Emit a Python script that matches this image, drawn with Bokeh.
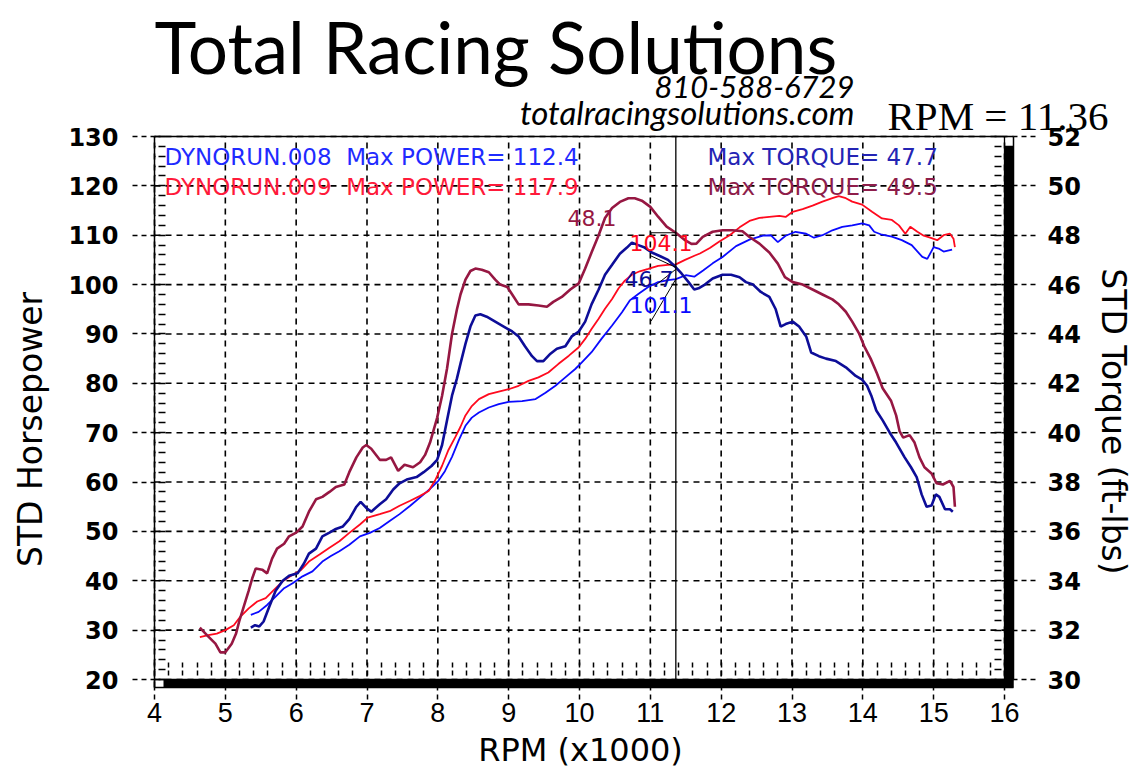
import math
from bokeh.plotting import figure
from bokeh.models import Range1d, LinearAxis, FixedTicker, Label
from bokeh.embed import file_html
from bokeh.resources import INLINE

# ---------------- data ----------------
# DYNORUN.009 torque (ft-lbs)
TQ009_RPM = [4.64, 4.74, 4.86, 4.93, 5.0, 5.09, 5.15, 5.2, 5.26, 5.33, 5.38, 5.43, 5.52, 5.59, 5.66, 5.73,
             5.83, 5.9, 6.0, 6.09, 6.18, 6.28, 6.37, 6.47, 6.56, 6.68, 6.75, 6.85, 6.94, 6.99, 7.06, 7.18,
             7.27, 7.34, 7.44, 7.53, 7.65, 7.75, 7.82, 7.89, 7.99, 8.06, 8.13, 8.2, 8.27, 8.32, 8.39, 8.46,
             8.53, 8.62, 8.72, 8.81, 8.88, 8.98, 9.05, 9.14, 9.28, 9.42, 9.54, 9.63, 9.75, 9.87, 9.99, 10.08,
             10.17, 10.27, 10.36, 10.46, 10.57, 10.69, 10.78, 10.88, 11.0, 11.11, 11.23, 11.36, 11.49, 11.58,
             11.65, 11.74, 11.88, 12.02, 12.16, 12.3, 12.4, 12.54, 12.68, 12.8, 12.9, 13.01, 13.15, 13.29,
             13.43, 13.57, 13.66, 13.76, 13.85, 13.95, 14.02, 14.11, 14.2, 14.28, 14.4, 14.47, 14.52, 14.57,
             14.66, 14.73, 14.8, 14.87, 14.97, 15.04, 15.13, 15.23, 15.28, 15.3]
TQ009 = [32.1, 31.8, 31.45, 31.1, 31.1, 31.45, 31.85, 32.4, 32.95, 33.6, 34.1, 34.5, 34.45, 34.3, 34.9, 35.3,
         35.5, 35.8, 35.95, 36.2, 36.8, 37.3, 37.4, 37.6, 37.8, 37.9, 38.4, 39.0, 39.4, 39.5, 39.35, 38.9,
         38.9, 39.0, 38.45, 38.7, 38.6, 38.8, 39.1, 39.6, 40.6, 41.5, 42.6, 44.0, 45.0, 45.6, 46.2, 46.55,
         46.65, 46.6, 46.5, 46.2, 46.0, 45.9, 45.6, 45.2, 45.2, 45.15, 45.1, 45.3, 45.5, 45.8, 46.05, 46.65,
         47.3, 48.0, 48.7, 49.1, 49.35, 49.5, 49.5, 49.4, 49.15, 48.75, 48.35, 48.1, 47.8, 47.65,
         47.66, 47.93, 48.14, 48.2, 48.2, 48.16, 47.93, 47.66, 47.3, 46.85, 46.3, 46.1, 46.0, 45.8,
         45.6, 45.4, 45.2, 44.9, 44.5, 44.0, 43.5, 43.0, 42.4, 41.8, 41.28, 40.7, 40.05, 39.8,
         39.9, 39.6, 39.0, 38.6, 38.35, 37.95, 37.9, 38.05, 37.8, 37.0]

# DYNORUN.008 torque (ft-lbs)
TQ008_RPM = [5.36, 5.42, 5.48, 5.54, 5.62, 5.71, 5.81, 5.9, 6.02, 6.11, 6.18, 6.28, 6.37, 6.47, 6.56, 6.66,
             6.75, 6.85, 6.91, 6.99, 7.06, 7.18, 7.27, 7.37, 7.46, 7.56, 7.7, 7.8, 7.91, 7.99, 8.06, 8.13,
             8.2, 8.27, 8.32, 8.39, 8.46, 8.53, 8.6, 8.69, 8.81, 8.93, 9.05, 9.14, 9.23, 9.33, 9.4, 9.49,
             9.59, 9.68, 9.8, 9.89, 9.99, 10.08, 10.17, 10.27, 10.36, 10.46, 10.57, 10.67, 10.74, 10.83,
             10.92, 11.02, 11.14, 11.25, 11.36, 11.44, 11.54, 11.62, 11.68, 11.77, 11.88, 12.02, 12.14,
             12.26, 12.35, 12.45, 12.56, 12.68, 12.77, 12.84, 12.91, 13.01, 13.1, 13.2, 13.27, 13.38,
             13.48, 13.62, 13.76, 13.9, 13.99, 14.06, 14.12, 14.19, 14.28, 14.38, 14.47, 14.59, 14.68,
             14.76, 14.83, 14.9, 14.97, 15.03, 15.08, 15.16, 15.23, 15.27]
TQ008 = [32.1, 32.2, 32.15, 32.35, 32.95, 33.6, 34.0, 34.2, 34.3, 34.7, 35.1, 35.3, 35.8, 35.95, 36.1, 36.2,
         36.5, 37.0, 37.2, 36.95, 36.8, 37.1, 37.3, 37.7, 37.95, 38.1, 38.2, 38.4, 38.65, 38.9, 39.5, 40.5,
         41.5, 42.2, 42.8, 43.6, 44.3, 44.75, 44.8, 44.7, 44.5, 44.3, 44.1, 43.9, 43.5, 43.1, 42.9, 42.9,
         43.2, 43.4, 43.5, 43.9, 44.1, 44.5, 45.2, 45.8, 46.4, 46.8, 47.25, 47.5, 47.7, 47.6,
         47.5, 47.3, 47.15, 47.0, 46.7, 46.45, 46.1, 45.8, 45.85, 46.0, 46.25, 46.4, 46.4,
         46.3, 46.1, 46.0, 45.7, 45.5, 45.0, 44.3, 44.4, 44.5, 44.3, 43.9, 43.25, 43.1,
         43.0, 42.9, 42.65, 42.3, 42.15, 41.9, 41.5, 40.9, 40.5, 40.0, 39.6, 39.0, 38.6,
         38.2, 37.5, 37.0, 37.05, 37.5, 37.4, 36.9, 36.9, 36.8]

# DYNORUN.009 power (HP)
HP009_RPM = [4.64, 4.76, 4.88, 5.0, 5.12, 5.21, 5.33, 5.45, 5.57, 5.69, 5.81, 5.95, 6.07, 6.18, 6.33, 6.47,
             6.61, 6.75, 6.9, 7.01, 7.18, 7.32, 7.46, 7.61, 7.75, 7.87, 7.96, 8.06, 8.15, 8.25, 8.32, 8.39,
             8.48, 8.58, 8.72, 8.86, 9.0, 9.14, 9.28, 9.42, 9.56, 9.7, 9.85, 9.99, 10.08, 10.17, 10.27,
             10.36, 10.46, 10.55, 10.64, 10.74, 10.85, 10.97, 11.11, 11.25, 11.36, 11.49, 11.63, 11.7,
             11.84, 11.98, 12.12, 12.26, 12.4, 12.54, 12.68, 12.82, 12.91, 13.01, 13.15, 13.29, 13.43,
             13.57, 13.66, 13.76, 13.85, 13.99, 14.13, 14.27, 14.41, 14.51, 14.6, 14.67, 14.77, 14.86,
             14.95, 15.05, 15.14, 15.23, 15.28, 15.3]
HP009 = [28.6, 29.0, 29.3, 30.0, 31.0, 32.7, 34.4, 35.8, 36.5, 38.2, 39.9, 41.2, 42.2, 43.9, 45.3, 46.7,
         48.0, 49.7, 51.4, 52.8, 53.5, 54.1, 55.2, 56.2, 57.2, 58.2, 60.3, 63.3, 66.5, 69.2, 71.2, 73.5,
         75.4, 76.8, 77.8, 78.3, 78.8, 79.5, 80.5, 81.2, 82.2, 83.9, 85.6, 87.3, 89.0, 91.0, 93.1,
         95.1, 97.1, 99.2, 100.8, 102.0, 102.7, 103.2, 103.8, 104.0, 104.1, 105.0, 105.9, 106.3,
         107.4, 108.8, 110.0, 111.6, 112.9, 113.5, 113.7, 113.9, 113.7, 114.75, 115.3, 116.0, 116.8,
         117.5, 117.9, 117.5, 116.8, 116.2, 114.75, 113.4, 113.1, 112.0, 110.3, 111.7, 110.7, 109.9,
         109.5, 109.0, 110.0, 110.3, 109.3, 107.6]

# DYNORUN.008 power (HP)
HP008_RPM = [5.36, 5.47, 5.59, 5.71, 5.83, 5.95, 6.09, 6.23, 6.37, 6.49, 6.61, 6.75, 6.9, 7.04, 7.18, 7.32,
             7.46, 7.61, 7.75, 7.89, 8.01, 8.1, 8.2, 8.3, 8.39, 8.48, 8.58, 8.72, 8.86, 9.0, 9.19, 9.38,
             9.52, 9.66, 9.8, 9.94, 10.03, 10.17, 10.31, 10.46, 10.6, 10.71, 10.83, 10.97, 11.11, 11.25,
             11.36, 11.5, 11.62, 11.75, 11.88, 12.02, 12.21, 12.4, 12.59, 12.7, 12.8, 12.91, 13.05, 13.2,
             13.31, 13.43, 13.57, 13.71, 13.85, 13.99, 14.09, 14.16, 14.27, 14.41, 14.55, 14.69, 14.84,
             14.91, 15.0, 15.07, 15.14, 15.26]
HP008 = [33.1, 33.7, 35.1, 36.8, 38.5, 39.5, 40.9, 41.9, 43.9, 45.0, 46.0, 47.3, 49.0, 49.7, 50.7, 52.1,
         53.5, 55.2, 56.9, 58.6, 60.3, 62.2, 65.1, 68.6, 71.4, 73.05, 74.1, 75.1, 75.8, 76.25, 76.4, 76.8,
         78.1, 79.5, 81.2, 82.9, 84.2, 86.3, 89.0, 91.7, 94.4, 96.8, 98.1, 99.5, 100.5, 100.9,
         101.1, 101.9, 101.6, 102.9, 104.3, 105.6, 107.8, 109.1, 109.9, 110.0, 108.6, 109.9, 110.7, 110.3,
         109.5, 110.0, 111.0, 111.7, 112.0, 112.4, 112.0, 110.7, 110.1, 109.7, 109.0, 108.0, 105.6,
         105.2, 107.6, 107.3, 106.7, 107.1]

RUN_NAMES = ["DYNORUN.008", "DYNORUN.009"]
MAX_POWER = [112.4, 117.9]
MAX_TORQUE = [47.7, 49.5]
CURSOR_RPM = 11.36
CURSOR_HP = [101.1, 104.1]
CURSOR_TQ = [46.7, 48.1]

X_TICKS = list(range(4, 17))
HP_TICKS = list(range(20, 131, 10))
TQ_TICKS = list(range(30, 53, 2))

# ---------------- layout ----------------
RPM_MIN, RPM_MAX = 4, 16
HP_MIN, HP_MAX = 20, 130
TQ_MIN, TQ_MAX = 30, 52
INNER_W, INNER_H = 850, 543       # pixel size of the 4..16 x 20..130 plot box
SHADOW_R, SHADOW_B = 9, 8
FIG_W, FIG_H = 1135, 770          # the frame covers the whole canvas; texts live inside it
ORIGIN = 1                        # page offset of the canvas
PAGE_X0, PAGE_Y0 = 155, 137       # page position of (RPM 4, HP 130)

PXR = INNER_W / (RPM_MAX - RPM_MIN)
PXH = INNER_H / (HP_MAX - HP_MIN)
PXT = INNER_H / (TQ_MAX - TQ_MIN)


def px_to_rpm(x):
    return RPM_MIN + (x - PAGE_X0) / PXR


def py_to_hp(y):
    return HP_MAX + (PAGE_Y0 - y) / PXH


def py_to_tq(y):
    return TQ_MAX + (PAGE_Y0 - y) / PXT


def tq_to_hp(t):
    return HP_MIN + (t - TQ_MIN) * PXT / PXH


X_SHADOW = RPM_MAX + SHADOW_R / PXR
Y_SHADOW = HP_MIN - SHADOW_B / PXH

RED = "#ff0a1e"
BLUE = "#0a0aff"
NAVY = "#0d0d98"
MAROON = "#961742"

p = figure(frame_width=FIG_W, frame_height=FIG_H,
           x_range=Range1d(px_to_rpm(ORIGIN), px_to_rpm(ORIGIN + FIG_W)),
           y_range=Range1d(py_to_hp(ORIGIN + FIG_H), py_to_hp(ORIGIN)),
           output_backend="svg", toolbar_location=None, min_border=0)
p.extra_y_ranges = {"tq": Range1d(py_to_tq(ORIGIN + FIG_H), py_to_tq(ORIGIN))}
p.background_fill_color = "white"
p.border_fill_color = "white"
p.outline_line_color = None
p.xgrid.visible = False
p.ygrid.visible = False

xt = FixedTicker(ticks=X_TICKS, minor_ticks=[RPM_MIN + i * 0.2 for i in range(61)])
yt = FixedTicker(ticks=HP_TICKS, minor_ticks=list(range(20, 131, 2)))
tt = FixedTicker(ticks=TQ_TICKS, minor_ticks=[TQ_MIN + i * 0.4 for i in range(56)])

# dashed grid, drawn on the data scales
p.segment(x0=X_TICKS, y0=[Y_SHADOW] * len(X_TICKS), x1=X_TICKS, y1=[HP_MAX] * len(X_TICKS),
          line_color="black", line_dash="6 5", line_width=1.6)
p.segment(x0=[RPM_MIN] * len(HP_TICKS), y0=HP_TICKS, x1=[X_SHADOW] * len(HP_TICKS), y1=HP_TICKS,
          line_color="black", line_dash="6 5", line_width=1.6)


def style_axis(ax, label_font, label_size, label_style, standoff, tick_out, minor_in, minor_dash):
    ax.axis_label = None
    ax.major_label_text_font = label_font
    ax.major_label_text_font_size = label_size
    ax.major_label_text_font_style = label_style
    ax.major_label_text_color = "black"
    ax.major_label_standoff = standoff
    ax.major_tick_out = tick_out
    ax.major_tick_in = 0
    ax.major_tick_line_dash = "5 4"
    ax.major_tick_line_width = 1.5
    ax.minor_tick_in = minor_in
    ax.minor_tick_out = 0
    ax.minor_tick_line_dash = minor_dash
    ax.minor_tick_line_width = 1.5
    ax.axis_line_width = 1.5


# left axis (HP), fixed on the plot box edge
ya = p.yaxis[0]
ya.ticker = yt
ya.bounds = (HP_MIN, HP_MAX)
ya.fixed_location = RPM_MIN
style_axis(ya, "DejaVu Sans", "24px", "bold", 14, 22, 11, "1 3 7")

# right axis (torque)
ra = LinearAxis(y_range_name="tq", ticker=tt, bounds=(TQ_MIN, TQ_MAX), fixed_location=X_SHADOW)
style_axis(ra, "DejaVu Sans", "24px", "bold", 12, 22, 19, "9 3 7")
p.add_layout(ra, "right")

# bottom axis (RPM)
xa = p.xaxis[0]
xa.ticker = xt
xa.bounds = (RPM_MIN, X_SHADOW)
xa.fixed_location = Y_SHADOW
style_axis(xa, "Liberation Sans", "27px", "normal", 3, 12, 25, "8 4 5 3 5")

# curves
p.line(HP008_RPM, HP008, line_color=BLUE, line_width=1.8)
p.line(HP009_RPM, HP009, line_color=RED, line_width=1.8)
p.line(TQ008_RPM, TQ008, y_range_name="tq", line_color=NAVY, line_width=2.6)
p.line(TQ009_RPM, TQ009, y_range_name="tq", line_color=MAROON, line_width=2.6)

# frame edges, cursor, drop shadow
p.segment(x0=[RPM_MIN, RPM_MAX, RPM_MIN, RPM_MIN, CURSOR_RPM],
          y0=[HP_MAX, HP_MIN, HP_MIN, Y_SHADOW, HP_MIN],
          x1=[RPM_MAX, RPM_MAX, RPM_MAX, RPM_MIN, CURSOR_RPM],
          y1=[HP_MAX, HP_MAX, HP_MIN, HP_MIN, HP_MAX],
          line_color="black", line_width=1.3)
p.quad(left=[RPM_MIN + SHADOW_R / PXR, RPM_MAX], right=[X_SHADOW, X_SHADOW],
       bottom=[Y_SHADOW, Y_SHADOW], top=[HP_MIN, HP_MAX - 10 / PXH],
       fill_color="black", line_color=None)

# leader lines from cursor values
cx = CURSOR_RPM
lx = cx - 0.35
t9 = tq_to_hp(CURSOR_TQ[1])
t8 = tq_to_hp(CURSOR_TQ[0])
p.segment(x0=[cx, lx, cx, cx, cx], y0=[t9, t9, t8, CURSOR_HP[1] - 1.0, CURSOR_HP[0]],
          x1=[lx, lx, lx, lx + 0.05, lx], y1=[t9, t9 - 0.9, t8 + 2.3, CURSOR_HP[1] - 4.4, CURSOR_HP[0] - 8.5],
          line_color="black", line_width=1)


def add_label(px, py, text, color, size="23px", font="DejaVu Sans", style="normal", align="left",
              angle=0.0):
    p.add_layout(Label(x=px_to_rpm(px), y=py_to_hp(py), text=text, text_color=color, text_font=font,
                       text_font_size=size, text_font_style=style, text_align=align,
                       text_baseline="middle", angle=angle))


# cursor value labels
add_label(568, 218, f"{CURSOR_TQ[1]}", MAROON, size="22px")
add_label(630, 243, f"{CURSOR_HP[1]}", RED, size="22px")
add_label(625, 279, f"{CURSOR_TQ[0]}", NAVY, size="22px")
add_label(630, 305, f"{CURSOR_HP[0]}", BLUE, size="22px")

# run headers
add_label(165, 157, f"{RUN_NAMES[0]}\u00a0 Max POWER= {MAX_POWER[0]}", "#1f2bff")
add_label(165, 187, f"{RUN_NAMES[1]}\u00a0 Max POWER= {MAX_POWER[1]}", "#ff1a3a")
add_label(708, 157, f"Max TORQUE= {MAX_TORQUE[0]}", "#2424b4")
add_label(708, 187, f"Max TORQUE= {MAX_TORQUE[1]}", "#8e1d4a")

# company header
add_label(155, 47, "Total Racing Solutions", "black", size="71px", font="Lato")
add_label(855, 87, "810-588-6729", "black", size="31px", font="Lato", style="italic", align="right")
add_label(855, 112, "totalracingsolutions.com", "black", size="33px", font="Lato", style="italic",
          align="right")
add_label(888, 116, f"RPM = {CURSOR_RPM}", "black", size="41px", font="Liberation Serif")

# axis titles
add_label(31, 430, "STD Horsepower", "black", size="33px", align="center", angle=math.pi / 2)
add_label(1114, 422, "STD Torque (ft-lbs)", "black", size="33px", align="center", angle=-math.pi / 2)
add_label(581, 750, "RPM (x1000)", "black", size="32px", align="center")

open("out.html", "w").write(file_html(p, INLINE))
